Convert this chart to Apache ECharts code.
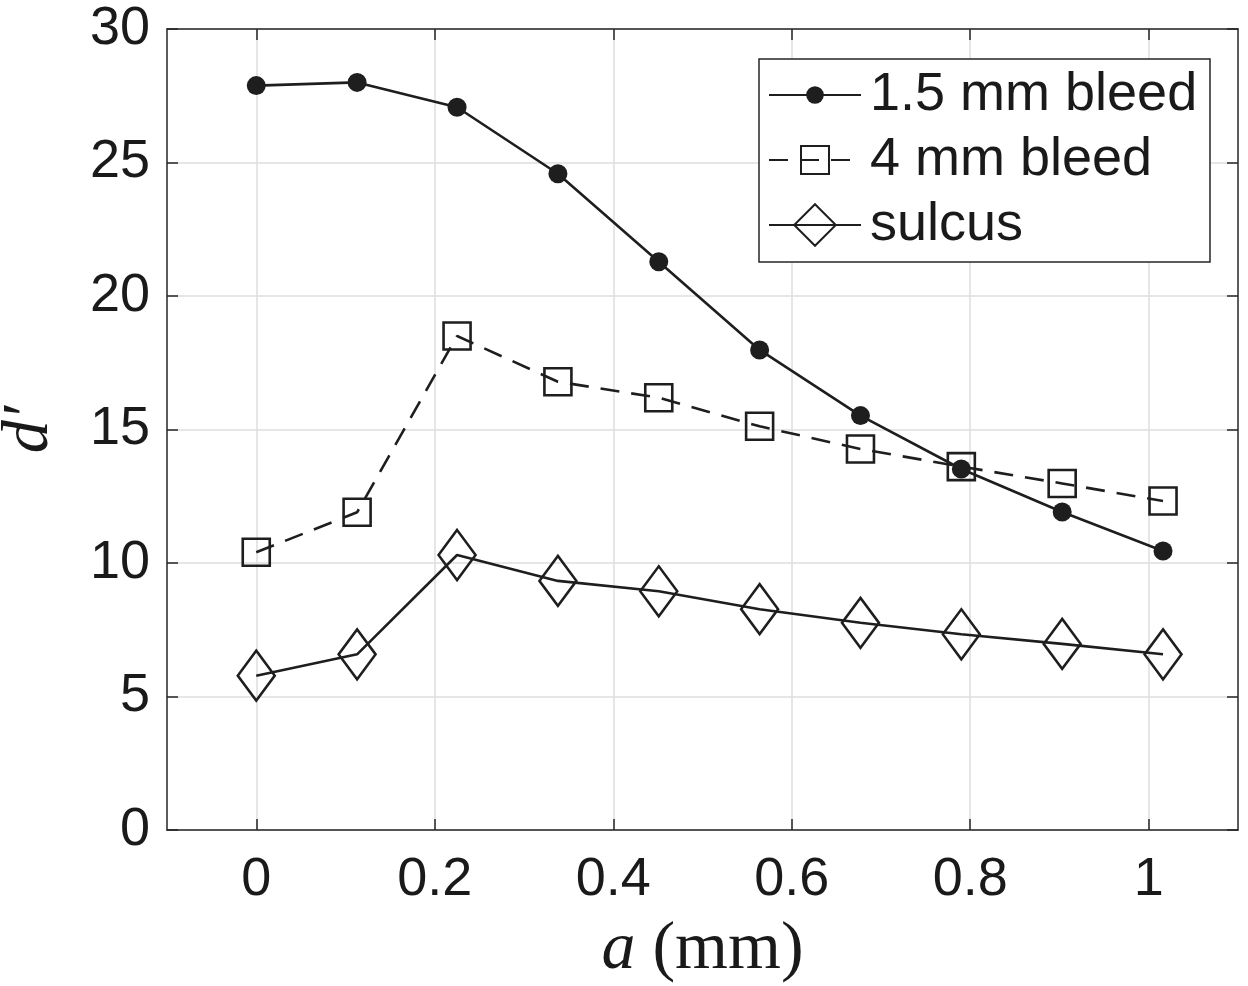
<!DOCTYPE html>
<html>
<head>
<meta charset="utf-8">
<title>d' vs a</title>
<script src="https://cdn.jsdelivr.net/npm/echarts@6/dist/echarts.min.js"></script>
<style>
  html, body { margin: 0; padding: 0; background: #fff; }
  #chart { width: 1248px; height: 986px; }
</style>
</head>
<body>
<div id="chart"></div>
<script>
// a (mm) positions of the samples
var aValues = [0, 0.113, 0.225, 0.338, 0.451, 0.564, 0.677, 0.790, 0.903, 1.016];
// d' per series
var bleed15 = [27.88, 28.0, 27.07, 24.58, 21.28, 17.98, 15.52, 13.52, 11.91, 10.45];
var bleed4 = [10.40, 11.90, 18.50, 16.79, 16.19, 15.12, 14.27, 13.61, 12.98, 12.32];
var sulcus = [5.78, 6.58, 10.30, 9.33, 8.94, 8.27, 7.76, 7.33, 6.97, 6.58];
var xTicks = [0, 0.2, 0.4, 0.6, 0.8, 1];
var seriesNames = ['1.5 mm bleed', '4 mm bleed', 'sulcus'];

var AX = '#262626';
var TXT = '#1a1a1a';
var LINE = '#1e1e1e';
var GRID = '#dedede';
var SANS = '"Liberation Sans", Arial, Helvetica, sans-serif';
var SERIF = '"Liberation Serif", "DejaVu Serif", serif';

function pairs(ys) {
  return aValues.map(function (x, i) { return [x, ys[i]]; });
}

var chart = echarts.init(document.getElementById('chart'));

var axisLine = {show: true, onZero: false, lineStyle: {color: AX, width: 1.5}};
var tickX = {show: true, inside: true, length: 11, customValues: xTicks, lineStyle: {color: AX, width: 1.5}};
var tickY = {show: true, inside: true, length: 11, lineStyle: {color: AX, width: 1.5}};

var option = {
  animation: false,
  backgroundColor: '#fff',
  grid: {left: 167, top: 29, right: 10, bottom: 156, containLabel: false, outerBoundsMode: 'none'},
  xAxis: [
    {
      type: 'value', min: -0.1, max: 1.1, position: 'bottom',
      axisLine: axisLine,
      axisTick: tickX,
      axisLabel: {customValues: xTicks, margin: 23, fontSize: 54, color: TXT, fontFamily: SANS},
      splitLine: {show: true, customValues: xTicks, lineStyle: {color: GRID, width: 1.5}},
      name: '{i|a}{r| (mm)}',
      nameLocation: 'middle',
      nameGap: 86,
      nameTextStyle: {
        rich: {
          i: {fontFamily: SERIF, fontStyle: 'italic', fontSize: 68, color: TXT},
          r: {fontFamily: SERIF, fontSize: 68, color: TXT}
        }
      }
    },
    {
      type: 'value', min: -0.1, max: 1.1, position: 'top',
      axisLine: axisLine,
      axisTick: tickX,
      axisLabel: {show: false},
      splitLine: {show: false}
    }
  ],
  yAxis: [
    {
      type: 'value', min: 0, max: 30, interval: 5, position: 'left',
      axisLine: axisLine,
      axisTick: tickY,
      axisLabel: {margin: 17, fontSize: 54, color: TXT, fontFamily: SANS},
      splitLine: {show: true, lineStyle: {color: GRID, width: 1.5}},
      name: 'd\u2032',
      nameLocation: 'middle',
      nameGap: 104,
      nameTextStyle: {fontFamily: SERIF, fontStyle: 'italic', fontSize: 66, color: TXT}
    },
    {
      type: 'value', min: 0, max: 30, interval: 5, position: 'right',
      axisLine: axisLine,
      axisTick: tickY,
      axisLabel: {show: false},
      splitLine: {show: false}
    }
  ],
  legend: [
    {data: [seriesNames[0]], left: 768, top: 68, itemHeight: 22},
    {data: [seriesNames[1]], left: 768, top: 133, itemHeight: 35},
    {data: [seriesNames[2]], left: 768, top: 198, itemHeight: 52}
  ].map(function (l) {
    return Object.assign({
      orient: 'vertical', padding: 0, itemWidth: 92, selectedMode: false,
      textStyle: {fontSize: 54, color: TXT, fontFamily: SANS, padding: [0, 0, 0, 4]}
    }, l);
  }),
  graphic: [
    {
      type: 'rect', z: 3,
      shape: {x: 759, y: 59, width: 451, height: 203},
      style: {fill: '#fff', stroke: AX, lineWidth: 1.5}
    }
  ],
  series: [
    {
      name: seriesNames[0], type: 'line', data: pairs(bleed15),
      symbol: 'circle', symbolSize: 19,
      itemStyle: {color: LINE},
      lineStyle: {color: LINE, width: 2.6},
      emphasis: {disabled: true}
    },
    {
      name: seriesNames[1], type: 'line', data: pairs(bleed4),
      symbol: 'rect', symbolSize: 27,
      itemStyle: {color: 'transparent', borderColor: LINE, borderWidth: 2.6},
      lineStyle: {color: LINE, width: 2.6, type: [19, 12]},
      emphasis: {disabled: true}
    },
    {
      name: seriesNames[2], type: 'line', data: pairs(sulcus),
      symbol: 'diamond', symbolSize: [37, 50],
      itemStyle: {color: 'transparent', borderColor: LINE, borderWidth: 2.6},
      lineStyle: {color: LINE, width: 2.6},
      emphasis: {disabled: true}
    }
  ]
};

chart.setOption(option);
</script>
</body>
</html>
